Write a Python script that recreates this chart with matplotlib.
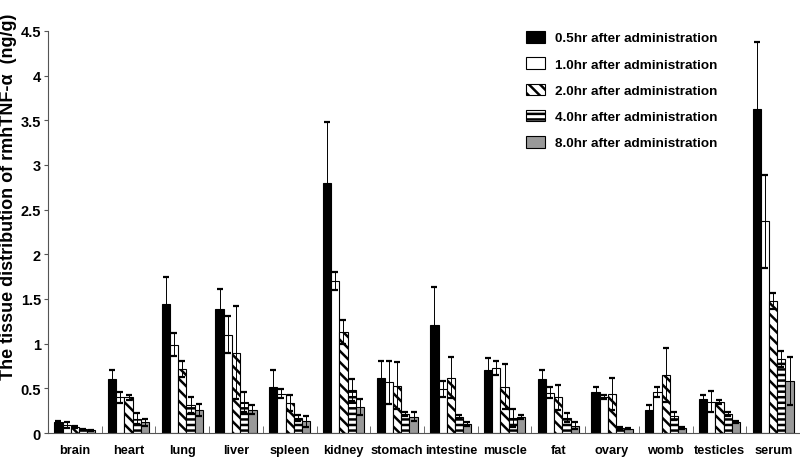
import matplotlib.pyplot as plt
import numpy as np

plt.rcParams['font.family'] = ['Liberation Sans', 'DejaVu Sans']
plt.rcParams['hatch.linewidth'] = 1.8

tissues = ['brain', 'heart', 'lung', 'liver', 'spleen', 'kidney', 'stomach',
           'intestine', 'muscle', 'fat', 'ovary', 'womb', 'testicles', 'serum']
series = ['0.5hr after administration', '1.0hr after administration',
          '2.0hr after administration', '4.0hr after administration',
          '8.0hr after administration']

h05 = [0.12, 0.60, 1.44, 1.39, 0.51, 2.80, 0.62, 1.21, 0.70, 0.60, 0.46, 0.26, 0.38, 3.63]
e05 = [0.02, 0.10, 0.31, 0.22, 0.19, 0.68, 0.19, 0.42, 0.14, 0.10, 0.06, 0.05, 0.05, 0.75]
h10 = [0.09, 0.40, 0.99, 1.10, 0.44, 1.70, 0.57, 0.49, 0.73, 0.45, 0.40, 0.46, 0.35, 2.37]
e10 = [0.03, 0.06, 0.13, 0.21, 0.05, 0.10, 0.24, 0.09, 0.08, 0.06, 0.02, 0.06, 0.12, 0.52]
h20 = [0.07, 0.40, 0.72, 0.90, 0.34, 1.13, 0.53, 0.62, 0.52, 0.40, 0.44, 0.65, 0.35, 1.48]
e20 = [0.01, 0.03, 0.09, 0.52, 0.09, 0.13, 0.26, 0.23, 0.25, 0.14, 0.18, 0.30, 0.02, 0.09]
h40 = [0.04, 0.16, 0.31, 0.35, 0.17, 0.48, 0.21, 0.18, 0.17, 0.17, 0.06, 0.19, 0.21, 0.83]
e40 = [0.01, 0.06, 0.09, 0.11, 0.03, 0.12, 0.02, 0.02, 0.10, 0.05, 0.01, 0.04, 0.02, 0.09]
h80 = [0.03, 0.12, 0.26, 0.26, 0.13, 0.29, 0.18, 0.10, 0.18, 0.08, 0.05, 0.06, 0.12, 0.58]
e80 = [0.005, 0.04, 0.07, 0.05, 0.06, 0.09, 0.05, 0.02, 0.02, 0.04, 0.01, 0.01, 0.01, 0.27]

heights = [h05, h10, h20, h40, h80]
errors = [e05, e10, e20, e40, e80]
faces = ['black', 'white', 'white', 'white', '#999999']
hatches = [None, None, '\\\\\\', '---', None]

fig = plt.figure(figsize=(8, 4.6), dpi=100)
ax = fig.add_axes([0.06, 0.0565, 0.94, 0.874])

x = np.arange(len(tissues))
w = 0.153
for i in range(5):
    ax.bar(x + (i - 2) * w, heights[i], w, color=faces[i], edgecolor='black',
           linewidth=0.8, hatch=hatches[i], label=series[i],
           yerr=errors[i], error_kw=dict(ecolor='black', elinewidth=0.7,
                                         capsize=2.5, capthick=1.6))

ax.set_xlim(-0.5, 13.5)
ax.set_ylim(0, 4.5)
ax.set_yticks([0, 0.5, 1, 1.5, 2, 2.5, 3, 3.5, 4, 4.5])
ax.set_yticklabels(['0', '0.5', '1', '1.5', '2', '2.5', '3', '3.5', '4', '4.5'],
                   fontsize=10.5, fontweight='bold')
ax.set_xticks(x)
ax.set_xticklabels(tissues, fontsize=9.2, fontweight='bold')
ax.tick_params(axis='x', length=0, pad=8)
ax.set_xticks(np.arange(0.5, 13, 1), minor=True)
ax.tick_params(axis='x', which='minor', direction='in', length=5, color='#555555')
ax.tick_params(axis='y', direction='out', length=3, pad=2, color='#555555')

for s in ['top', 'right']:
    ax.spines[s].set_visible(False)
ax.spines['left'].set_color('#555555')
ax.spines['bottom'].set_color('#555555')

ax.set_ylabel('The tissue distribution of rmhTNF-α  (ng/g)', fontsize=13,
              fontweight='bold')
ax.yaxis.set_label_coords(-0.041, 0.59)

ax.legend(loc='upper left', bbox_to_anchor=(0.62, 1.03), frameon=False,
          prop=dict(size=9.7, weight='bold'), handlelength=1.35,
          handleheight=0.95, handletextpad=0.75, labelspacing=0.95)

fig.savefig('out.png', dpi=100)
